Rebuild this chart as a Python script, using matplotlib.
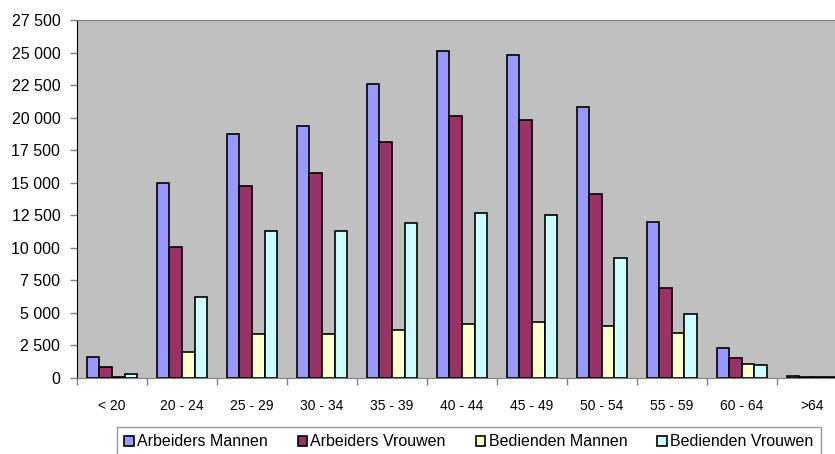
import numpy as np
import matplotlib.pyplot as plt
from matplotlib.ticker import FuncFormatter, MultipleLocator

plt.rcParams['font.family'] = ['Liberation Sans', 'DejaVu Sans']

age_groups = ['< 20', '20 - 24', '25 - 29', '30 - 34', '35 - 39', '40 - 44',
              '45 - 49', '50 - 54', '55 - 59', '60 - 64', '>64']
series_names = ['Arbeiders Mannen', 'Arbeiders Vrouwen',
                'Bedienden Mannen', 'Bedienden Vrouwen']
arbeiders_mannen = [1590, 14980, 18720, 19380, 22600, 25110, 24780, 20790, 12000, 2330, 120]
arbeiders_vrouwen = [820, 10080, 14770, 15770, 18100, 20150, 19810, 14150, 6900, 1510, 40]
bedienden_mannen = [100, 1970, 3400, 3380, 3660, 4120, 4290, 4020, 3460, 1100, 90]
bedienden_vrouwen = [280, 6250, 11290, 11270, 11880, 12700, 12510, 9190, 4940, 975, 40]

colors = ['#9999FF', '#993366', '#FFFFCC', '#CCFFFF']

fig = plt.figure(figsize=(8.35, 4.54), dpi=100)
# the plot area runs past the right edge of the picture, as in the original
ax = fig.add_axes([0.0922, 0.1674, 0.922, 0.7886])
ax.set_facecolor('#C0C0C0')

x = np.arange(len(age_groups))
width = 0.18
all_series = [arbeiders_mannen, arbeiders_vrouwen, bedienden_mannen, bedienden_vrouwen]
for i, (vals, name, col) in enumerate(zip(all_series, series_names, colors)):
    ax.bar(x + (i - 1.5) * width, vals, width, color=col, edgecolor='black',
           linewidth=1.2, label=name, zorder=3)

ax.set_xlim(-0.5, len(age_groups) - 0.5)
ax.set_ylim(0, 27500)
ax.yaxis.set_major_locator(MultipleLocator(2500))
ax.yaxis.set_major_formatter(FuncFormatter(lambda v, p: f'{int(v):,}'.replace(',', ' ')))

ax.set_xticks(x)
ax.set_xticklabels(age_groups)
ax.set_xticks(np.arange(-0.5, len(age_groups)), minor=True)
ax.tick_params(axis='x', which='major', length=0, pad=15, labelsize=10)
ax.tick_params(axis='x', which='minor', length=5, color='#808080', width=1)
ax.tick_params(axis='y', length=5, color='#808080', width=1, pad=7, labelsize=11.5)

ax.spines['left'].set_color('black')
ax.spines['bottom'].set_color('#808080')
ax.spines['top'].set_color('#808080')
ax.spines['right'].set_visible(False)

leg = fig.legend(loc='upper left', bbox_to_anchor=(0.1398, 0.0, 0.843, 0.0588),
                 mode='expand', ncol=4, frameon=True, fancybox=False,
                 edgecolor='#808080', fontsize=11.5, handlelength=0.6, handleheight=0.6,
                 handletextpad=0.2, borderpad=0.45, borderaxespad=0)
leg.get_frame().set_linewidth(1.0)

fig.savefig('out.png', dpi=100)
